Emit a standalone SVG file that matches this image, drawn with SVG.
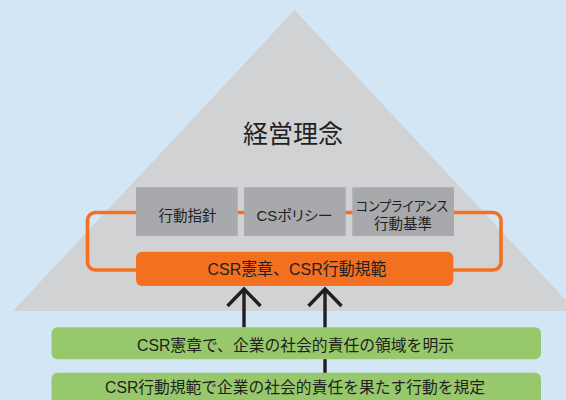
<svg xmlns="http://www.w3.org/2000/svg" width="566" height="400" viewBox="0 0 566 400">
<style>
text{font-family:"Liberation Sans","Noto Sans CJK JP",sans-serif;fill:#231F20;text-anchor:middle;}
.palt{font-feature-settings:"palt";}
.gbox{fill:#A7A9AC;}
.green{fill:#97C96C;}
.arrow{stroke:#231F20;stroke-width:3.4;fill:none;}
</style>
<rect width="566" height="400" fill="#D3E6F6"/>
<polygon points="294.5,10 13,311 576,311" fill="#D1D2D4"/>
<g id="connectors">
<rect x="87.5" y="212.5" width="413.5" height="57.5" rx="8" fill="none" stroke="#F37021" stroke-width="3.6"/>
<path class="arrow" d="M244 327.5V289 M227.5 306L244 289L260.5 306"/>
<path class="arrow" d="M325 373V289 M308.5 306L325 289L341.5 306"/>
</g>
<g id="keiei">
<text x="293" y="143" font-size="25">経営理念</text>
</g>
<g id="box1">
<rect class="gbox" x="136" y="187.3" width="101.7" height="48.7"/>
<text x="187.5" y="220.5" font-size="14.5">行動指針</text>
</g>
<g id="box2">
<rect class="gbox" x="244" y="187.3" width="101.7" height="48.7"/>
<text class="palt" x="294.5" y="220.5" font-size="14.5" textLength="76" lengthAdjust="spacingAndGlyphs">CSポリシー</text>
</g>
<g id="box3">
<rect class="gbox" x="352.3" y="187.3" width="101.7" height="48.7"/>
<text class="palt" x="402" y="210.5" font-size="14" textLength="92" lengthAdjust="spacingAndGlyphs">コンプライアンス</text>
<text x="403" y="228.5" font-size="14.5">行動基準</text>
</g>
<g id="charter">
<rect x="136" y="251.7" width="317.3" height="34.3" rx="6" fill="#F37021"/>
<text x="297" y="274.5" font-size="17" textLength="179" lengthAdjust="spacingAndGlyphs">CSR憲章、CSR行動規範</text>
</g>
<g id="green1">
<rect class="green" x="51.5" y="327.3" width="489.5" height="32" rx="6"/>
<text x="295.5" y="350.5" font-size="16" textLength="317" lengthAdjust="spacingAndGlyphs">CSR憲章で、企業の社会的責任の領域を明示</text>
</g>
<g id="green2">
<rect class="green" x="51.5" y="372.7" width="489.5" height="40" rx="6"/>
<text x="295" y="392.5" font-size="16" textLength="380" lengthAdjust="spacingAndGlyphs">CSR行動規範で企業の社会的責任を果たす行動を規定</text>
</g>
</svg>
